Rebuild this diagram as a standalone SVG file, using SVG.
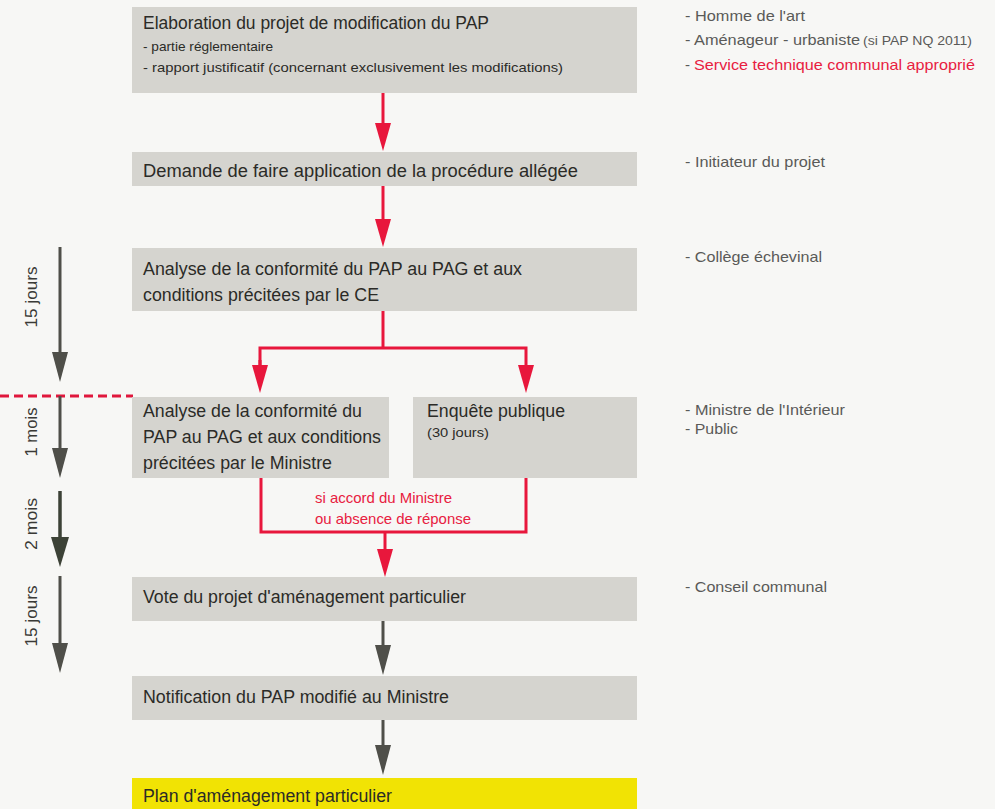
<svg xmlns="http://www.w3.org/2000/svg" width="995" height="809" viewBox="0 0 995 809">
<defs>
<style>
.box{fill:#d5d4cf}
.yel{fill:#f1e304}
.t{font-family:"Liberation Sans Narrow","Liberation Sans",Arial,sans-serif;fill:#2b2b27}
.b{font-size:17.5px}
.s{font-size:13.5px}
.r{font-family:"Liberation Sans Narrow","Liberation Sans",Arial,sans-serif;font-size:15px;fill:#5a5a58}
.rs{font-size:12px}
.red{fill:#e8203f}
.lab{font-family:"Liberation Sans Narrow","Liberation Sans",Arial,sans-serif;font-size:14.5px;fill:#e8203f}
.tl{font-family:"Liberation Sans",Arial,sans-serif;font-size:16.5px;fill:#3a3a36}
.rl{fill:none;stroke:#e8173c;stroke-width:3}
.gl{fill:none;stroke:#4f4f49;stroke-width:3}
.dl{fill:none;stroke:#3c4236;stroke-width:3.5}
</style>
<marker id="ar" markerUnits="userSpaceOnUse" markerWidth="30" markerHeight="18" refX="18" refY="8" orient="auto">
<path d="M0,0 L28,8 L0,16 Z" fill="#e8173c"/>
</marker>
<marker id="ag" markerUnits="userSpaceOnUse" markerWidth="32" markerHeight="18" refX="20" refY="8" orient="auto">
<path d="M0,0 L30,8 L0,16 Z" fill="#4f4f49"/>
</marker>
<marker id="ad" markerUnits="userSpaceOnUse" markerWidth="32" markerHeight="20" refX="20" refY="9" orient="auto">
<path d="M0,0 L30,9 L0,18 Z" fill="#3c4236"/>
</marker>
</defs>
<rect width="995" height="809" fill="#f7f7f5"/>

<g id="connectors">
<line class="rl" x1="383" y1="93" x2="383" y2="141" marker-end="url(#ar)"/>
<line class="rl" x1="383" y1="186" x2="383" y2="237" marker-end="url(#ar)"/>
<polyline class="rl" points="383,311 383,348"/>
<polyline class="rl" points="260,383 260,348 526,348 526,383" marker-end="url(#ar)"/>
<line class="rl" x1="260" y1="360" x2="260" y2="383" marker-end="url(#ar)"/>
<polyline class="rl" points="261,478 261,532 526,532 526,478"/>
<line class="rl" x1="385" y1="532" x2="385" y2="567" marker-end="url(#ar)"/>
<line class="gl" x1="383" y1="621" x2="383" y2="665" marker-end="url(#ag)"/>
<line class="gl" x1="383" y1="720" x2="383" y2="765" marker-end="url(#ag)"/>
</g>

<g id="timeline">
<line x1="0" y1="396" x2="133" y2="396" stroke="#e0173c" stroke-width="3" stroke-dasharray="9,5"/>
<line class="gl" x1="60" y1="247" x2="60" y2="372" marker-end="url(#ag)"/>
<line class="gl" x1="60" y1="396" x2="60" y2="468" marker-end="url(#ag)"/>
<line class="dl" x1="60" y1="491" x2="60" y2="557" marker-end="url(#ad)"/>
<line class="gl" x1="60" y1="576" x2="60" y2="663" marker-end="url(#ag)"/>
<text class="tl" transform="translate(37,297) rotate(-90)" text-anchor="middle" textLength="61" lengthAdjust="spacingAndGlyphs">15 jours</text>
<text class="tl" transform="translate(37,432) rotate(-90)" text-anchor="middle" textLength="49" lengthAdjust="spacingAndGlyphs">1 mois</text>
<text class="tl" transform="translate(37,524) rotate(-90)" text-anchor="middle" textLength="52" lengthAdjust="spacingAndGlyphs">2 mois</text>
<text class="tl" transform="translate(37,616) rotate(-90)" text-anchor="middle" textLength="61" lengthAdjust="spacingAndGlyphs">15 jours</text>
</g>

<g id="n1">
<rect class="box" x="132" y="7" width="505" height="86"/>
<text class="t b" x="143" y="29" textLength="346" lengthAdjust="spacingAndGlyphs">Elaboration du projet de modification du PAP</text>
<text class="t s" x="143" y="51" textLength="130" lengthAdjust="spacingAndGlyphs">- partie réglementaire</text>
<text class="t s" x="143" y="72" textLength="420" lengthAdjust="spacingAndGlyphs">- rapport justificatif (concernant exclusivement les modifications)</text>
</g>

<g id="n2">
<rect class="box" x="132" y="152" width="505" height="34"/>
<text class="t b" x="143" y="177" textLength="435" lengthAdjust="spacingAndGlyphs">Demande de faire application de la procédure allégée</text>
</g>

<g id="n3">
<rect class="box" x="132" y="248" width="505" height="63"/>
<text class="t b" x="143" y="275" textLength="379" lengthAdjust="spacingAndGlyphs">Analyse de la conformité du PAP au PAG et aux</text>
<text class="t b" x="143" y="301" textLength="236" lengthAdjust="spacingAndGlyphs">conditions précitées par le CE</text>
</g>

<g id="n4">
<rect class="box" x="132" y="397" width="257" height="81"/>
<text class="t b" x="143" y="417" textLength="219" lengthAdjust="spacingAndGlyphs">Analyse de la conformité du</text>
<text class="t b" x="143" y="443" textLength="238" lengthAdjust="spacingAndGlyphs">PAP au PAG et aux conditions</text>
<text class="t b" x="143" y="469" textLength="189" lengthAdjust="spacingAndGlyphs">précitées par le Ministre</text>
</g>

<g id="n5">
<rect class="box" x="413" y="397" width="224" height="81"/>
<text class="t b" x="427" y="417" textLength="138" lengthAdjust="spacingAndGlyphs">Enquête publique</text>
<text class="t s" x="427" y="437" textLength="62" lengthAdjust="spacingAndGlyphs">(30 jours)</text>
</g>

<g id="label">
<text class="lab" x="315" y="503" textLength="137" lengthAdjust="spacingAndGlyphs">si accord du Ministre</text>
<text class="lab" x="315" y="524" textLength="156" lengthAdjust="spacingAndGlyphs">ou absence de réponse</text>
</g>

<g id="n6">
<rect class="box" x="132" y="577" width="505" height="44"/>
<text class="t b" x="143" y="603" textLength="323" lengthAdjust="spacingAndGlyphs">Vote du projet d'aménagement particulier</text>
</g>

<g id="n7">
<rect class="box" x="132" y="676" width="505" height="44"/>
<text class="t b" x="143" y="703" textLength="306" lengthAdjust="spacingAndGlyphs">Notification du PAP modifié au Ministre</text>
</g>

<g id="n8">
<rect class="yel" x="132" y="778" width="505" height="31"/>
<text class="t b" x="143" y="802" textLength="249" lengthAdjust="spacingAndGlyphs">Plan d'aménagement particulier</text>
</g>

<g id="actors">
<text class="r" x="685" y="21" textLength="120" lengthAdjust="spacingAndGlyphs">- Homme de l'art</text>
<text class="r" x="685" y="45"><tspan textLength="175" lengthAdjust="spacingAndGlyphs">- Aménageur - urbaniste</tspan><tspan class="rs" x="863" textLength="109" lengthAdjust="spacingAndGlyphs">(si PAP NQ 2011)</tspan></text>
<text class="r" x="685" y="70"><tspan>-</tspan><tspan class="red" x="694" textLength="281" lengthAdjust="spacingAndGlyphs">Service technique communal approprié</tspan></text>
<text class="r" x="685" y="167" textLength="140" lengthAdjust="spacingAndGlyphs">- Initiateur du projet</text>
<text class="r" x="685" y="262" textLength="137" lengthAdjust="spacingAndGlyphs">- Collège échevinal</text>
<text class="r" x="685" y="415" textLength="160" lengthAdjust="spacingAndGlyphs">- Ministre de l'Intérieur</text>
<text class="r" x="685" y="434" textLength="53" lengthAdjust="spacingAndGlyphs">- Public</text>
<text class="r" x="685" y="592" textLength="142" lengthAdjust="spacingAndGlyphs">- Conseil communal</text>
</g>
</svg>
